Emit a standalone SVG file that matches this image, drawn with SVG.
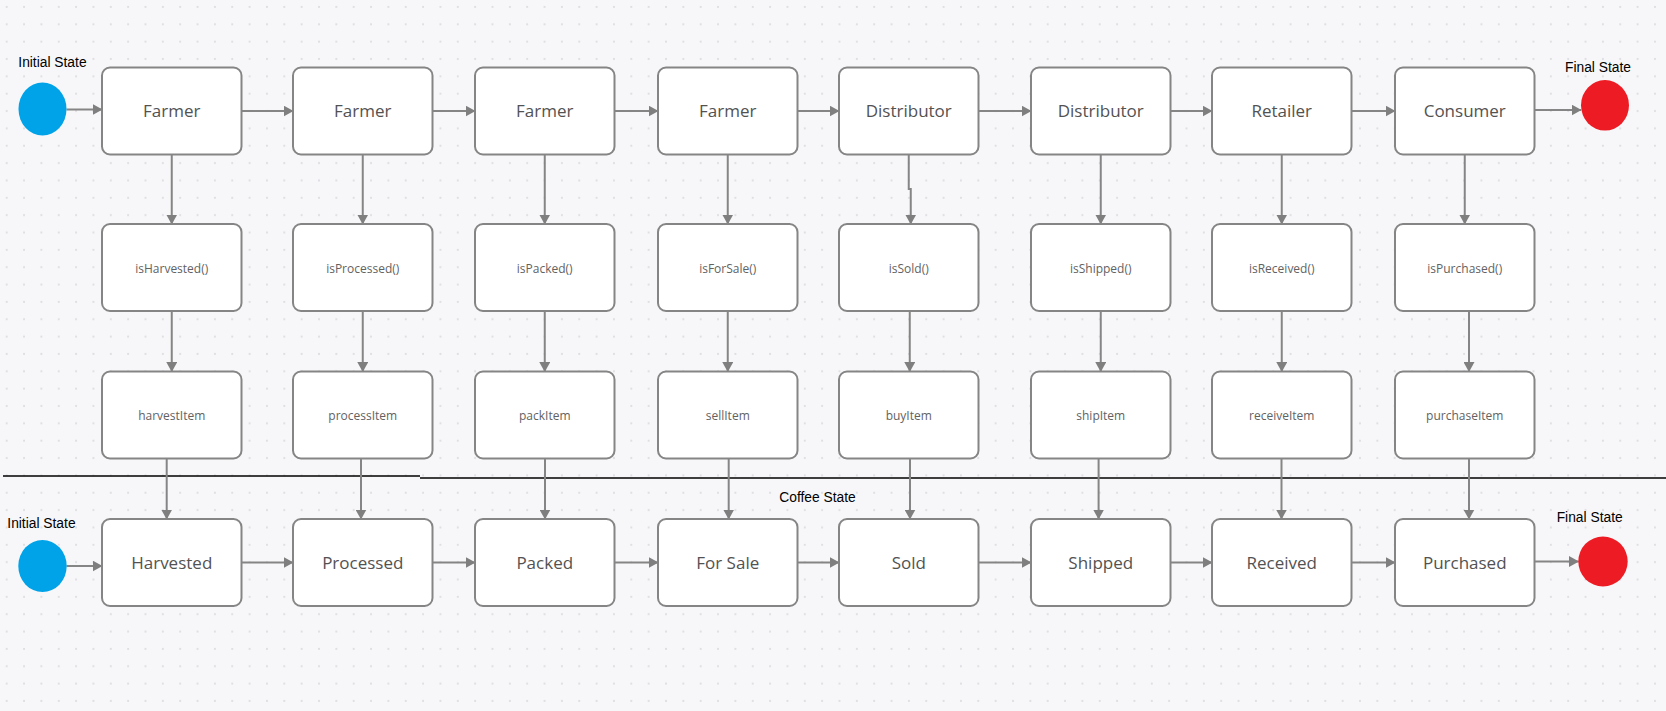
<svg xmlns="http://www.w3.org/2000/svg" width="1666" height="711" viewBox="0 0 1666 711">
<defs>
<pattern id="dots" x="6.7" y="7" width="17.35" height="17.35" patternUnits="userSpaceOnUse">
<circle cx="0" cy="0" r="1.1" fill="#dedee3"/>
<circle cx="17.35" cy="0" r="1.1" fill="#dedee3"/>
<circle cx="0" cy="17.35" r="1.1" fill="#dedee3"/>
<circle cx="17.35" cy="17.35" r="1.1" fill="#dedee3"/>
</pattern>
<marker id="arr" markerUnits="userSpaceOnUse" markerWidth="10" markerHeight="11" refX="9.5" refY="5.5" orient="auto">
<path d="M0,0 L10,5.5 L0,11 Z" fill="#7f7f7f"/>
</marker>
</defs>
<style>
.box{fill:#ffffff;stroke:#858585;stroke-width:2}
.big{font-family:"Open Sans","Liberation Sans",sans-serif;font-size:17px;fill:#525252;text-anchor:middle}
.small{font-family:"Open Sans","Liberation Sans",sans-serif;font-size:12px;fill:#626262;text-anchor:middle}
.lbl{font-family:"Liberation Sans","Open Sans",sans-serif;font-size:13.8px;fill:#000000}
.c{stroke:#858585;stroke-width:2;fill:none;marker-end:url(#arr)}
</style>
<rect x="0" y="0" width="1666" height="711" fill="#f7f7f9"/>
<rect x="0" y="0" width="1666" height="711" fill="url(#dots)"/>

<g id="separator">
<line x1="3" y1="476" x2="420" y2="476" stroke="#000" stroke-width="1.3"/>
<line x1="420" y1="478" x2="1666" y2="478" stroke="#000" stroke-width="1.3"/>
<text class="lbl" x="779.3" y="501.7">Coffee State</text>
</g>

<g id="connectors">
<line class="c" x1="66.5" y1="109.5" x2="102" y2="109.5"/>
<line class="c" x1="241.5" y1="111" x2="293" y2="111"/>
<line class="c" x1="432.5" y1="111" x2="475" y2="111"/>
<line class="c" x1="614.5" y1="111" x2="658" y2="111"/>
<line class="c" x1="797.5" y1="111" x2="839" y2="111"/>
<line class="c" x1="978.5" y1="111" x2="1031" y2="111"/>
<line class="c" x1="1170.5" y1="111" x2="1212" y2="111"/>
<line class="c" x1="1351.5" y1="111" x2="1395" y2="111"/>
<line class="c" x1="1534.5" y1="110" x2="1581" y2="110"/>

<line class="c" x1="66.5" y1="566" x2="102" y2="566"/>
<line class="c" x1="241.5" y1="562.5" x2="293" y2="562.5"/>
<line class="c" x1="432.5" y1="562.5" x2="475" y2="562.5"/>
<line class="c" x1="614.5" y1="562.5" x2="658" y2="562.5"/>
<line class="c" x1="797.5" y1="562.5" x2="839" y2="562.5"/>
<line class="c" x1="978.5" y1="562.5" x2="1031" y2="562.5"/>
<line class="c" x1="1170.5" y1="562.5" x2="1212" y2="562.5"/>
<line class="c" x1="1351.5" y1="562.5" x2="1395" y2="562.5"/>
<line class="c" x1="1534.5" y1="561.5" x2="1578.5" y2="561.5"/>

<line class="c" x1="171.75" y1="154.5" x2="171.75" y2="224"/>
<line class="c" x1="362.75" y1="154.5" x2="362.75" y2="224"/>
<line class="c" x1="544.75" y1="154.5" x2="544.75" y2="224"/>
<line class="c" x1="727.75" y1="154.5" x2="727.75" y2="224"/>
<path class="c" d="M908.75,154.5 V189 H910.75 V224"/>
<line class="c" x1="1100.75" y1="154.5" x2="1100.75" y2="224"/>
<line class="c" x1="1281.75" y1="154.5" x2="1281.75" y2="224"/>
<line class="c" x1="1464.75" y1="154.5" x2="1464.75" y2="224"/>

<line class="c" x1="171.75" y1="311" x2="171.75" y2="371.5"/>
<line class="c" x1="362.75" y1="311" x2="362.75" y2="371.5"/>
<line class="c" x1="544.75" y1="311" x2="544.75" y2="371.5"/>
<line class="c" x1="727.75" y1="311" x2="727.75" y2="371.5"/>
<line class="c" x1="909.75" y1="311" x2="909.75" y2="371.5"/>
<line class="c" x1="1100.75" y1="311" x2="1100.75" y2="371.5"/>
<line class="c" x1="1281.75" y1="311" x2="1281.75" y2="371.5"/>
<line class="c" x1="1469" y1="311" x2="1469" y2="371.5"/>

<line class="c" x1="166.7" y1="458.5" x2="166.7" y2="519"/>
<line class="c" x1="361" y1="458.5" x2="361" y2="519"/>
<line class="c" x1="545" y1="458.5" x2="545" y2="519"/>
<line class="c" x1="728.7" y1="458.5" x2="728.7" y2="519"/>
<line class="c" x1="910" y1="458.5" x2="910" y2="519"/>
<line class="c" x1="1098.6" y1="458.5" x2="1098.6" y2="519"/>
<line class="c" x1="1281.5" y1="458.5" x2="1281.5" y2="519"/>
<line class="c" x1="1469" y1="458.5" x2="1469" y2="519"/>
</g>

<g id="initial-top">
<ellipse cx="42.5" cy="109" rx="24" ry="26.5" fill="#00a2e8"/>
<text class="lbl" x="18.3" y="66.7">Initial State</text>
</g>
<g id="final-top">
<ellipse cx="1605" cy="105.3" rx="24" ry="25.3" fill="#ed1c24"/>
<text class="lbl" x="1565" y="71.7">Final State</text>
</g>
<g id="initial-bottom">
<ellipse cx="42.5" cy="566" rx="24.2" ry="26" fill="#00a2e8"/>
<text class="lbl" x="7.3" y="528.3">Initial State</text>
</g>
<g id="final-bottom">
<ellipse cx="1603" cy="561.5" rx="24.7" ry="25" fill="#ed1c24"/>
<text class="lbl" x="1556.7" y="521.7">Final State</text>
</g>

<g id="actor-1"><rect class="box" x="102" y="67.5" width="139.5" height="87" rx="8"/><text class="big" x="171.75" y="117">Farmer</text></g>
<g id="actor-2"><rect class="box" x="293" y="67.5" width="139.5" height="87" rx="8"/><text class="big" x="362.75" y="117">Farmer</text></g>
<g id="actor-3"><rect class="box" x="475" y="67.5" width="139.5" height="87" rx="8"/><text class="big" x="544.75" y="117">Farmer</text></g>
<g id="actor-4"><rect class="box" x="658" y="67.5" width="139.5" height="87" rx="8"/><text class="big" x="727.75" y="117">Farmer</text></g>
<g id="actor-5"><rect class="box" x="839" y="67.5" width="139.5" height="87" rx="8"/><text class="big" x="908.75" y="117">Distributor</text></g>
<g id="actor-6"><rect class="box" x="1031" y="67.5" width="139.5" height="87" rx="8"/><text class="big" x="1100.75" y="117">Distributor</text></g>
<g id="actor-7"><rect class="box" x="1212" y="67.5" width="139.5" height="87" rx="8"/><text class="big" x="1281.75" y="117">Retailer</text></g>
<g id="actor-8"><rect class="box" x="1395" y="67.5" width="139.5" height="87" rx="8"/><text class="big" x="1464.75" y="117">Consumer</text></g>

<g id="check-1"><rect class="box" x="102" y="224" width="139.5" height="87" rx="8"/><text class="small" x="171.75" y="272.5">isHarvested()</text></g>
<g id="check-2"><rect class="box" x="293" y="224" width="139.5" height="87" rx="8"/><text class="small" x="362.75" y="272.5">isProcessed()</text></g>
<g id="check-3"><rect class="box" x="475" y="224" width="139.5" height="87" rx="8"/><text class="small" x="544.75" y="272.5">isPacked()</text></g>
<g id="check-4"><rect class="box" x="658" y="224" width="139.5" height="87" rx="8"/><text class="small" x="727.75" y="272.5">isForSale()</text></g>
<g id="check-5"><rect class="box" x="839" y="224" width="139.5" height="87" rx="8"/><text class="small" x="908.75" y="272.5">isSold()</text></g>
<g id="check-6"><rect class="box" x="1031" y="224" width="139.5" height="87" rx="8"/><text class="small" x="1100.75" y="272.5">isShipped()</text></g>
<g id="check-7"><rect class="box" x="1212" y="224" width="139.5" height="87" rx="8"/><text class="small" x="1281.75" y="272.5">isReceived()</text></g>
<g id="check-8"><rect class="box" x="1395" y="224" width="139.5" height="87" rx="8"/><text class="small" x="1464.75" y="272.5">isPurchased()</text></g>

<g id="action-1"><rect class="box" x="102" y="371.5" width="139.5" height="87" rx="8"/><text class="small" x="171.75" y="419.5">harvestItem</text></g>
<g id="action-2"><rect class="box" x="293" y="371.5" width="139.5" height="87" rx="8"/><text class="small" x="362.75" y="419.5">processItem</text></g>
<g id="action-3"><rect class="box" x="475" y="371.5" width="139.5" height="87" rx="8"/><text class="small" x="544.75" y="419.5">packItem</text></g>
<g id="action-4"><rect class="box" x="658" y="371.5" width="139.5" height="87" rx="8"/><text class="small" x="727.75" y="419.5">sellItem</text></g>
<g id="action-5"><rect class="box" x="839" y="371.5" width="139.5" height="87" rx="8"/><text class="small" x="908.75" y="419.5">buyItem</text></g>
<g id="action-6"><rect class="box" x="1031" y="371.5" width="139.5" height="87" rx="8"/><text class="small" x="1100.75" y="419.5">shipItem</text></g>
<g id="action-7"><rect class="box" x="1212" y="371.5" width="139.5" height="87" rx="8"/><text class="small" x="1281.75" y="419.5">receiveItem</text></g>
<g id="action-8"><rect class="box" x="1395" y="371.5" width="139.5" height="87" rx="8"/><text class="small" x="1464.75" y="419.5">purchaseItem</text></g>

<g id="state-1"><rect class="box" x="102" y="519" width="139.5" height="87" rx="8"/><text class="big" x="171.75" y="568.5">Harvested</text></g>
<g id="state-2"><rect class="box" x="293" y="519" width="139.5" height="87" rx="8"/><text class="big" x="362.75" y="568.5">Processed</text></g>
<g id="state-3"><rect class="box" x="475" y="519" width="139.5" height="87" rx="8"/><text class="big" x="544.75" y="568.5">Packed</text></g>
<g id="state-4"><rect class="box" x="658" y="519" width="139.5" height="87" rx="8"/><text class="big" x="727.75" y="568.5">For Sale</text></g>
<g id="state-5"><rect class="box" x="839" y="519" width="139.5" height="87" rx="8"/><text class="big" x="908.75" y="568.5">Sold</text></g>
<g id="state-6"><rect class="box" x="1031" y="519" width="139.5" height="87" rx="8"/><text class="big" x="1100.75" y="568.5">Shipped</text></g>
<g id="state-7"><rect class="box" x="1212" y="519" width="139.5" height="87" rx="8"/><text class="big" x="1281.75" y="568.5">Received</text></g>
<g id="state-8"><rect class="box" x="1395" y="519" width="139.5" height="87" rx="8"/><text class="big" x="1464.75" y="568.5">Purchased</text></g>
</svg>
